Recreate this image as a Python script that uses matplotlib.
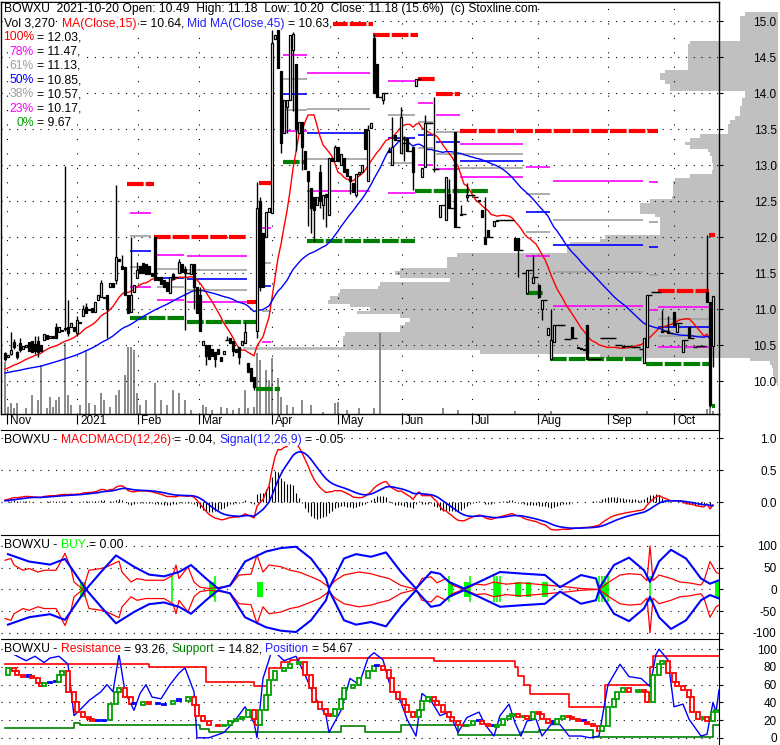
import numpy as np
import pandas as pd
import matplotlib
matplotlib.use("Agg")
import matplotlib.pyplot as plt
from matplotlib.transforms import blended_transform_factory
from matplotlib.lines import Line2D

plt.rcParams['font.family'] = ['Liberation Sans', 'DejaVu Sans']
FS = 8.5
TS = 8.75  # title text size

# ---------------- data (bar index = trading day, 0 = first bar shown) ----------------
month_labels = ['Nov', '2021', 'Feb', 'Mar', 'Apr', 'May', 'Jun', 'Jul', 'Aug', 'Sep', 'Oct']
month_pos = [0.7, 24, 44.3, 64.7, 89, 111, 132.3, 155.7, 177.7, 201, 223]
price_ticks = [10.0, 10.5, 11.0, 11.5, 12.0, 12.5, 13.0, 13.5, 14.0, 14.5, 15.0]

# closes before the first visible bar (only feed the moving averages)
hist_closes = [10.02, 10.03, 10.05, 10.04, 10.06, 10.05, 10.07, 10.06, 10.08, 10.07,
               10.05, 10.08, 10.09, 10.07, 10.06, 10.08, 10.10, 10.09, 10.08, 10.10,
               10.11, 10.09, 10.10, 10.12, 10.11, 10.10, 10.12, 10.13, 10.11, 10.12,
               10.10, 10.12, 10.14, 10.13, 10.15, 10.12, 10.14, 10.16, 10.15, 10.13,
               10.16, 10.18, 10.17, 10.20, 10.22]

opens = [10.39, 10.33, 10.38, 10.54, 10.40, 10.53, 10.45, 10.47, 10.54, 10.55,
         10.52, 10.55, 10.50, 10.57, 10.64, 10.60, 10.63, 10.75, 10.68, 10.70,
         10.72, 10.75, 10.75, 10.75, 10.67, 10.80, 10.90, 11.03, 11.00, 11.02,
         10.96, 11.13, 11.17, 11.15, 11.20, 11.30, 11.36, 11.40, 11.70, 11.60,
         11.58, 11.20, 10.96, 11.23, 11.43, 11.60, 11.64, 11.62, 11.60, 11.50,
         12.00, 11.45, 11.45, 11.40, 11.38, 11.22, 11.48, 11.45, 11.50, 11.63,
         11.55, 11.50, 11.48, 11.62, 11.30, 11.20, 10.50, 10.50, 10.50, 10.45,
         10.40, 10.45, 10.33, 10.38, 10.57, 10.60, 10.55, 10.45, 10.47, 10.50,
         10.53, 10.25, 10.18, 10.06,
         10.70, 12.50, 12.05, 12.00, 12.35, 12.33, 14.75, 14.87, 14.30, 13.45,
         13.80, 13.90, 14.60, 14.40, 13.45, 13.60, 13.20, 12.92, 12.68, 12.55,
         12.45, 12.90, 12.45, 12.60, 12.30, 13.10, 13.05, 13.25, 13.00, 13.10,
         12.95, 12.85, 12.75, 12.58, 12.88, 12.90, 13.50, 12.78, 13.52, 14.76,
         14.40, 13.95, 13.90, 14.00, 13.20, 13.00, 13.42, 13.35, 13.17, 13.30,
         13.38, 13.20, 13.25, 14.10, 14.20, 12.83, 12.97, 13.58, 13.58, 12.95,
         12.95, 12.28, 12.44, 12.24, 12.60, 12.40, 13.46, 12.14, 12.30, 12.32,
         12.55, 12.58, 12.58, 12.55, 12.50, 12.37, 12.00, 12.10, 12.00, 12.15,
         12.22, 12.23, 12.23, 12.23, 12.23, 12.23, 11.99, 11.99, 11.82, 11.50,
         11.22, 11.54, 11.36, 11.44, 11.33, 11.00, 11.12, 10.64, 10.30, 10.54,
         10.78, 10.78, 10.78, 10.58, 10.58, 10.75, 10.60, 10.47, 10.46, 10.45,
         10.78, 10.30, 10.30, 10.30, 10.30, 10.60, 10.60, 10.60, 10.60, 10.60,
         10.50, 10.50, 10.47, 10.48, 10.48, 10.47, 10.47, 10.47, 10.44, 10.25,
         10.47, 11.20, 11.24, 11.24, 11.24, 10.68, 10.70, 10.70, 10.67, 10.96,
         10.68, 10.80, 10.40, 10.57, 10.75, 10.60, 10.47, 10.48, 10.48, 10.48,
         11.24, 11.10, 10.49]

closes = [10.30, 10.36, 10.43, 10.47, 10.33, 10.43, 10.48, 10.50, 10.42, 10.40,
          10.42, 10.40, 10.42, 10.66, 10.58, 10.62, 10.60, 10.60, 10.75, 10.71,
          10.73, 10.67, 10.80, 10.70, 10.85, 10.82, 11.00, 10.94, 10.98, 10.96,
          11.10, 11.20, 11.36, 11.17, 11.00, 11.36, 11.30, 11.72, 11.66, 11.55,
          11.20, 10.95, 11.20, 11.33, 11.54, 11.50, 11.50, 11.48, 11.48, 11.46,
          11.40, 11.40, 11.35, 11.30, 11.25, 11.45, 11.42, 11.45, 11.65, 11.52,
          11.50, 11.50, 11.62, 11.30, 10.95, 10.70, 10.55, 10.35, 10.30, 10.35,
          10.30, 10.38, 10.28, 10.42, 10.57, 10.53, 10.42, 10.40, 10.33, 10.55,
          10.68, 10.12, 10.00, 9.92,
          12.40, 11.30, 11.30, 12.35, 12.40, 14.70, 14.80, 14.35, 13.30, 13.90,
          13.90, 14.80, 14.82, 13.50, 13.60, 13.25, 12.95, 12.78, 12.40, 12.37,
          12.55, 12.50, 12.58, 12.55, 13.10, 13.05, 13.25, 13.05, 13.15, 12.90,
          12.85, 12.78, 12.62, 12.88, 12.90, 13.00, 13.22, 13.48, 13.58, 14.00,
          13.95, 13.95, 14.00, 14.00, 13.18, 13.25, 13.35, 13.35, 13.67, 13.30,
          13.20, 13.20, 12.90, 14.20, 14.20, 12.96, 13.58, 13.58, 13.58, 12.95,
          12.95, 12.44, 12.44, 12.83, 12.40, 12.40, 12.14, 12.14, 12.32, 12.32,
          12.58, 12.58, 12.58, 12.55, 12.52, 12.28, 11.90, 12.00, 12.00, 12.22,
          12.23, 12.23, 12.23, 12.23, 12.23, 12.23, 11.82, 11.82, 11.82, 11.50,
          11.54, 11.54, 11.44, 11.44, 11.17, 11.12, 11.12, 10.74, 10.57, 10.78,
          10.78, 10.78, 10.78, 10.58, 10.58, 10.60, 10.60, 10.46, 10.44, 10.43,
          10.30, 10.30, 10.30, 10.30, 10.30, 10.60, 10.60, 10.60, 10.60, 10.60,
          10.50, 10.50, 10.48, 10.48, 10.48, 10.47, 10.47, 10.47, 10.44, 10.60,
          11.20, 11.20, 11.24, 11.24, 11.24, 10.70, 10.70, 10.67, 10.67, 10.78,
          10.80, 10.80, 10.57, 10.57, 10.60, 10.60, 10.47, 10.48, 10.48, 10.48,
          11.10, 9.67, 11.18]

# wick extremes where they reach beyond the body
highs = {0: 10.40, 2: 10.68, 3: 10.58, 4: 10.42, 5: 10.60, 10: 10.62, 11: 10.63, 17: 10.80,
         20: 12.99, 21: 11.13, 24: 10.90, 26: 11.05, 27: 11.08, 32: 11.40, 37: 12.72, 39: 11.75,
         42: 12.00, 44: 11.65, 58: 11.70, 60: 11.60, 65: 11.30, 74: 10.63, 80: 10.82,
         84: 12.77, 85: 12.55, 89: 14.87, 96: 14.85, 105: 13.00, 110: 13.28, 121: 13.55,
         123: 14.82, 128: 13.25, 129: 13.67, 132: 13.80, 133: 13.40, 140: 13.70, 143: 13.94,
         148: 12.80, 152: 12.45, 154: 12.75, 160: 12.56, 176: 11.75, 182: 11.00, 219: 10.99,
         221: 10.90, 234: 12.03, 236: 11.18}
lows = {0: 10.28, 2: 10.36, 3: 10.45, 4: 10.30, 5: 10.40, 10: 10.38, 11: 10.33, 20: 10.70,
        21: 10.62, 24: 10.62, 34: 10.60, 37: 11.35, 60: 10.71, 63: 11.00, 67: 10.22, 70: 10.20,
        76: 10.35, 78: 10.24, 83: 9.88, 84: 10.60, 85: 11.25, 92: 13.17, 94: 13.45, 96: 13.75,
        97: 13.20, 99: 12.93, 101: 12.15, 102: 12.05, 103: 11.95, 105: 12.40, 106: 12.25,
        107: 12.14, 115: 12.60, 117: 12.55, 126: 13.85, 133: 13.05, 136: 12.65, 143: 12.90,
        154: 12.50, 171: 11.45, 179: 10.85, 235: 9.64, 236: 10.20}

vol_idx = [0, 1, 2, 3, 4, 7, 9, 11, 12, 14, 15, 16, 17, 18, 20, 21, 22, 25, 27, 28,
           30, 32, 33, 35, 37, 38, 40, 41, 42, 43, 44, 45, 47, 50, 52, 54, 56, 58, 60, 62,
           66, 67, 69, 72, 74, 76, 78, 80, 81, 83, 84, 85, 87, 88, 89, 91, 92, 94, 96, 99,
           102, 106, 110, 111, 114, 118, 123, 125, 146, 151, 170, 182, 214, 234, 235, 236]
volume = [52000, 7000, 11000, 6000, 11000, 6000, 19000, 14000, 49000, 6000,
          17000, 7000, 14000, 17000, 71000, 19000, 9000, 9000, 64000, 11000,
          9000, 21000, 14000, 7000, 19000, 24000, 39000, 67000, 67000, 64000,
          21000, 9000, 14000, 31000, 14000, 9000, 24000, 21000, 14000, 4000,
          9000, 7000, 4000, 7000, 6000, 4000, 6000, 24000, 6000, 7000,
          61000, 54000, 44000, 34000, 56000, 36000, 17000, 9000, 7000, 14000,
          9000, 2000, 11000, 12000, 4000, 6000, 6000, 81000, 6000, 4000,
          3000, 3000, 3000, 5000, 8000, 3270]

# volume traded at price, rows of 0.05 from 15.10 down to 9.95
profile_top, profile_step = 15.10, 0.05
profile_volume = [33, 38, 38, 38, 38, 38, 38, 38,
                  88, 90, 90, 90, 90, 90, 90, 90,
                  113, 118, 118, 113, 108, 108,
                  33, 33, 36, 36, 38, 38, 38, 43, 48, 50, 50, 50,
                  78, 88, 93, 88, 70, 68, 66, 66, 65, 65, 66,
                  88, 103, 105, 105, 105, 105, 106,
                  128, 138, 138, 138, 123, 118, 118, 118, 118, 118,
                  173, 178, 208, 211, 211,
                  321, 331, 331, 331, 378, 383, 378, 328, 398, 400,
                  438, 440, 448, 450, 428, 408, 421, 378, 368, 373,
                  378, 378, 433, 435, 435, 435, 535, 298, 178,
                  28, 8, 6, 5, 5, 4, 3, 1]

# resistance (red) / support (green) levels: first bar, last bar, price
res_start = [41, 50, 81, 85, 109, 123, 138, 144, 152, 218, 235]
res_end = [49, 80, 84, 88, 122, 137, 143, 151, 217, 234, 236]
res_level = [12.74, 12.00, 11.10, 12.75, 14.96, 14.80, 14.20, 13.99, 13.47, 11.25, 12.03]
sup_start = [42, 61, 84, 93, 101, 137, 174, 182, 214, 236]
sup_end = [59, 83, 91, 100, 136, 161, 179, 213, 235, 236]
sup_level = [10.87, 10.82, 9.89, 13.04, 11.95, 12.64, 11.22, 10.31, 10.24, 9.65]

# fibonacci windows
fib_start = [42, 51, 61, 86, 93, 101, 128, 138, 144, 152, 174, 183, 215, 218]
fib_end = [48, 59, 80, 88, 100, 121, 136, 142, 151, 172, 181, 212, 217, 234]
fib_high = [12.74, 12.00, 12.00, 12.75, 14.94, 14.94, 14.80, 14.20, 13.99, 13.47, 13.47, 13.47, 13.47, 11.25]
fib_low = [10.87, 10.87, 10.82, 9.89, 13.04, 11.95, 11.95, 12.64, 12.64, 12.64, 11.22, 10.31, 10.24, 10.24]
fib_ratios = [0.78, 0.61, 0.50, 0.38, 0.23]
fib_colors = ['#FF00FF', '#A0A0A0', '#0000FF', '#A0A0A0', '#FF00FF']

# BUY panel envelopes (upper side, mirrored below)
buy_blue_idx = [1, 8, 15, 20, 27, 32, 37, 43, 48, 53, 58, 62, 67, 71, 75, 80, 87, 92, 97, 102,
                107, 108, 113, 117, 122, 127, 132, 137, 142, 145, 148, 153, 158, 165, 173, 180,
                185, 192, 197, 198, 203, 208, 213, 215, 218, 222, 227, 232, 235, 238]
buy_blue = [81, 64, 57, 70, 0, 40, 78, 52, 34, 30, 40, 56, 25, 2, 9, 64, 87, 95, 98, 71,
            25, 2, 71, 81, 75, 85, 40, 2, 40, 36, 17, 2, 17, 40, 36, 33, 5, 33, 25, 2,
            56, 73, 44, 17, 64, 91, 71, 25, 13, 21]
buy_red_idx = [0, 2, 3, 6, 8, 11, 13, 17, 18, 20, 22, 23, 26, 28, 32, 34, 38, 39, 42, 44,
               47, 50, 53, 56, 57, 58, 61, 63, 65, 68, 72, 75, 78, 82, 84, 86, 88, 92, 95, 98,
               102, 105, 108, 110, 113, 118, 122, 125, 128, 132, 137, 139, 142, 144, 147, 149,
               153, 157, 160, 163, 167, 172, 177, 182, 187, 192, 198, 202, 205, 208, 212, 214,
               215, 216, 218, 222, 225, 228, 232, 233, 235, 237, 238]
buy_red = [67, 71, 56, 44, 48, 40, 44, 44, 56, 83, 48, 17, 0, 44, 48, 52, 65, 40, 17, 25,
           21, 21, 21, 33, 56, 25, 52, 17, 5, 2, 5, 8, 33, 35, 79, 40, 56, 52, 44, 40,
           29, 20, 5, 20, 33, 40, 36, 30, 25, 9, 0, 25, 29, 15, 25, 10,
           0, 12, 10, 17, 12, 15, 12, 9, 6, 2, 0, 20, 33, 36, 34, 20,
           100, 20, 33, 25, 17, 15, 10, 20, 64, 40, 36]
buy_bar_idx = [26, 69, 85, 148.5, 154, 164, 171, 174.5, 180, 200, 237.5]
buy_tick_idx = [55.7, 70, 148, 155, 163, 164, 165, 198, 199, 200, 201, 215]

# Resistance / Support / Position panel
res_idx = [0, 48, 67, 83, 88, 92, 95, 98, 143, 170, 171, 173, 175, 188, 200, 215, 216, 238]
res_val = [83, 80, 63, 58, 79, 86, 88, 90, 87, 80, 70, 60, 49, 35, 60, 80, 92, 92]
sup_idx = [0, 23, 25, 65, 68, 112, 120, 132, 151, 172, 178, 196, 236, 238]
sup_val = [11, 17, 14, 10, 6, 13, 6, 15, 3, 6, 8.5, 0.5, 14.8, 14.8]
pos_idx = [0, 1, 3, 4, 6, 8, 9, 11, 12, 13, 15, 17, 18, 19, 21, 23, 24, 26, 28, 29,
           31, 33, 35, 37, 38, 40, 42, 43, 46, 48, 51, 53, 56, 58, 61, 63, 64, 66, 68, 71,
           73, 75, 77, 79, 81, 83, 84, 85, 87, 88, 90, 93, 95, 98, 100, 102, 103, 105, 107, 108,
           110, 112, 113, 116, 118, 121, 123, 124, 126, 128, 129, 131, 133, 134, 136, 138, 139, 141, 143, 144,
           146, 148, 149, 151, 153, 154, 156, 158, 159, 161, 163, 164, 166, 168, 169, 171, 173, 174, 176, 178,
           179, 181, 183, 184, 186, 188, 189, 191, 193, 194, 196, 198, 199, 201, 203, 204, 206, 208, 211, 213,
           214, 216, 218, 219, 221, 223, 224, 226, 228, 229, 231, 233, 234, 236, 237]
pos_val = [71, 79, 75, 71, 69, 70, 67, 62, 58, 62, 63, 63, 71, 75, 52, 40, 29, 23, 21, 19,
           19, 20, 38, 52, 56, 46, 38, 37, 40, 38, 37, 38, 42, 42, 46, 37, 25, 19, 15, 13,
           15, 19, 21, 23, 31, 21, 15, 31, 48, 65, 75, 79, 83, 85, 71, 56, 40, 33, 27, 25,
           33, 44, 56, 60, 67, 75, 81, 81, 77, 67, 52, 44, 37, 29, 23, 31, 42, 46, 42, 37,
           29, 23, 19, 15, 13, 15, 19, 19, 16, 13, 12, 15, 21, 25, 27, 23, 25, 21, 29, 27,
           21, 17, 16, 21, 25, 23, 21, 19, 18, 16, 13, 8, 13, 35, 44, 52, 56, 52, 54, 52,
           40, 71, 83, 87, 73, 63, 58, 54, 46, 29, 21, 23, 19, 29, 31]
posline_idx = [3, 7, 10, 13, 15, 18, 21, 23, 26, 28, 32, 34, 36, 38, 40, 43, 45, 47, 49, 52,
               55, 58, 60, 63, 64, 68, 73, 77, 80, 83, 84, 86, 88, 89, 93, 97, 100, 103, 107, 108,
               112, 115, 118, 121, 123, 126, 128, 132, 134, 137, 139, 142, 145, 148, 151, 154, 158, 160, 163, 165,
               168, 170, 172, 174, 177, 179, 182, 185, 188, 192, 195, 198, 201, 205, 208, 212, 215, 217, 218, 221,
               223, 226, 228, 232, 234, 236, 237, 238]
posline_val = [94, 87, 92, 85, 90, 92, 83, 25, 35, 42, 52, 60, 52, 94, 52, 31, 50, 60, 46, 44,
               60, 73, 79, 52, 0, 0, 6, 21, 35, 17, 0, 67, 88, 100, 87, 92, 71, 48, 25, 6,
               31, 67, 60, 90, 96, 88, 63, 40, 21, 2, 50, 42, 25, 29, 6, 23, 29, 15, 2, 25,
               38, 17, 2, 19, 21, 2, 15, 15, 2, 2, 0, 2, 60, 83, 69, 67, 58, 94, 100, 88,
               35, 38, 21, 2, 4, 40, 29, 54]

# ---------------- figure ----------------
W, H = 780, 745
fig = plt.figure(figsize=(W / 100, H / 100), dpi=100)
XL = (-4 / 3, 238)


def panel(top, bottom):
    return fig.add_axes([1 / W, 1 - bottom / H, 718 / W, (bottom - top) / H])


def right_labels(a, ticks, labels):
    a.yaxis.tick_right()
    a.set_yticks(ticks)
    a.set_yticklabels(labels)
    a.tick_params(axis='y', length=3, width=0.8, pad=38.5, labelsize=FS)
    for t in a.get_yticklabels():
        t.set_ha('right')


def rich(a, x, y, parts, ha='left'):
    # pieces of text in different colours, leading spaces become an explicit gap
    box = dict(boxstyle='square,pad=0.03', fc='white', ec='none')
    space = TS * 0.278
    s, col = parts[0]
    t = a.text(x / W, 1 - y / H, s, color=col, ha=ha, va='baseline', fontsize=TS,
               transform=fig.transFigure, zorder=10, bbox=box)
    for s, col in parts[1:]:
        gap = (len(s) - len(s.lstrip(' '))) * space
        t = a.annotate(s.lstrip(' '), xy=(1, 0), xycoords=t, xytext=(gap, 0),
                       textcoords='offset points', ha='left', va='bottom', color=col,
                       fontsize=TS, zorder=10, bbox=box)
    return t


ax = panel(2, 414)
ax_m = panel(430, 535)
ax_b = panel(535, 639)
ax_r = panel(639, 744)

# ---- main price panel ----
n = len(closes)
idx = np.arange(n)
o = np.array(opens)
c = np.array(closes)
hi = np.maximum(o, c)
lo = np.minimum(o, c)
for k, v in highs.items():
    hi[k] = v
for k, v in lows.items():
    lo[k] = v

anchor = XL[0] + (778 - 1) / 3
levels = profile_top - profile_step * np.arange(len(profile_volume))
ax.barh(levels, -np.array(profile_volume) / 3, left=anchor, height=profile_step,
        color='#C0C0C0', lw=0, zorder=0.5, clip_on=False)

tv = blended_transform_factory(ax.transData, ax.transAxes)
ax.vlines(vol_idx, 0, np.array(volume) / 412000, transform=tv, color='#808080', lw=1.3, zorder=1)

for y in price_ticks:
    ax.axhline(y, color='black', lw=0.8, ls=(0, (1, 6)), zorder=1.2)
for x in month_pos:
    ax.axvline(x, color='black', lw=0.8, ls=(0, (1, 12)), zorder=1.2)

for s, e, h, l in zip(fib_start, fib_end, fib_high, fib_low):
    for r, col in zip(fib_ratios, fib_colors):
        ax.hlines(l + r * (h - l), s - 0.5, e + 0.5, color=col, lw=1.2, zorder=2)
ax.hlines(res_level, np.array(res_start) - 0.5, np.array(res_end) + 0.5, color='#FF0000',
          lw=3, linestyles=[(0, (4, 0.5))], zorder=2.5)
ax.hlines(sup_level, np.array(sup_start) - 0.5, np.array(sup_end) + 0.5, color='#008000',
          lw=3, linestyles=[(0, (4, 0.5))], zorder=2.5)

full = pd.Series(hist_closes + closes)
ma15 = full.rolling(15).mean().values[-n:]
ma45 = full.rolling(45).mean().values[-n:]
ax.plot(idx, ma15, color='#FF0000', lw=1, zorder=3)
ax.plot(idx, ma45, color='#0000FF', lw=1, zorder=3)

ax.vlines(idx, lo, hi, color='black', lw=1, zorder=4)
up = c > o
dn = c < o
flat = c == o
ax.bar(idx[up], (c - o)[up], bottom=o[up], width=0.75, facecolor='white',
       edgecolor='black', lw=0.9, zorder=5)
ax.bar(idx[dn], (o - c)[dn], bottom=c[dn], width=0.75, facecolor='black',
       edgecolor='black', lw=0.9, zorder=5)
ax.hlines(c[flat], idx[flat] - 0.7, idx[flat] + 0.7, color='black', lw=1, zorder=5)

ax.set_xlim(*XL)
ax.set_ylim(9.542, 15.264)
right_labels(ax, price_ticks, [f'{v:.1f}' for v in price_ticks])
ax.set_xticks(month_pos)
ax.set_xticklabels([])
ax.tick_params(axis='x', length=7, width=0.8, direction='out')
for x, lab in zip(month_pos, month_labels):
    ax.annotate(lab, xy=(x, 0), xycoords=('data', 'axes fraction'), xytext=(3, -1),
                textcoords='offset pixels', ha='left', va='top', fontsize=FS)
for sp in ax.spines.values():
    sp.set_linewidth(1)
fig.add_artist(Line2D([719 / W, 719 / W], [1 - 414 / H, 1 - 430 / H], color='black', lw=1))

rich(ax, 4, 12, [('BOWXU  2021-10-20 Open: 10.49  High: 11.18  Low: 10.20  Close: 11.18 (15.6%)  (c) Stoxline.com', 'black')])
rich(ax, 4, 27, [('Vol 3,270', 'black'), ('  MA(Close,15)', '#FF0000'), (' = 10.64,', 'black'),
                 (' Mid MA(Close,45)', '#2020FF'), (' = 10.63,', 'black')])
fib_text = [('100%', '#FF0000', '12.03,'), ('78%', '#FF00FF', '11.47,'), ('61%', '#A0A0A0', '11.13,'),
            ('50%', '#0000FF', '10.85,'), ('38%', '#A0A0A0', '10.57,'), ('23%', '#FF00FF', '10.17,'),
            ('0%', '#00A000', '9.67')]
for k, (pct, col, val) in enumerate(fib_text):
    rich(ax, 34, 40.5 + 14.2 * k, [(pct, col), (' = ' + val, 'black')], ha='right')

# ---- MACD panel ----
ema12 = full.ewm(span=12, adjust=False).mean()
ema26 = full.ewm(span=26, adjust=False).mean()
macd = ema12 - ema26
signal = macd.ewm(span=9, adjust=False).mean()
macd_v = macd.values[-n:]
sig_v = signal.values[-n:]
for y in [1.0, 0.5, 0.0]:
    ax_m.axhline(y, color='black', lw=0.8, ls=(0, (1, 6)), zorder=1)
ax_m.vlines(idx, 0, macd_v - sig_v, color='black', lw=0.8, zorder=2)
ax_m.plot(idx, macd_v, color='#FF0000', lw=1, zorder=3)
ax_m.plot(idx, sig_v, color='#0000FF', lw=1.2, zorder=3)
ax_m.set_xlim(*XL)
ax_m.set_ylim(-0.51, 1.13)
ax_m.set_xticks([])
right_labels(ax_m, [0.0, 0.5, 1.0], ['0.0', '0.5', '1.0'])
rich(ax_m, 4, 443, [('BOWXU -', 'black'), (' MACDMACD(12,26)', '#FF0000'), (' = -0.04,', 'black'),
                    (' Signal(12,26,9)', '#2020FF'), (' = -0.05', 'black')])

# ---- BUY panel ----
for y in [100, 50, 0, -50, -100]:
    ax_b.axhline(y, color='black', lw=0.8, ls=(0, (1, 6)), zorder=1)
ax_b.bar(buy_bar_idx, 34, bottom=-17, width=1.8, color='#00FF00', lw=0, zorder=2)
ax_b.vlines(buy_tick_idx, -30, 30, color='#00FF00', lw=1.2, zorder=2)
ax_b.plot(buy_red_idx, buy_red, color='#FF0000', lw=0.9, zorder=3)
ax_b.plot(buy_red_idx, -np.array(buy_red), color='#FF0000', lw=0.9, zorder=3)
ax_b.plot(buy_blue_idx, buy_blue, color='#0000FF', lw=1.5, zorder=4)
ax_b.plot(buy_blue_idx, -np.array(buy_blue), color='#0000FF', lw=1.5, zorder=4)
ax_b.set_xlim(*XL)
ax_b.set_ylim(-114, 125)
ax_b.set_xticks([])
right_labels(ax_b, [100, 50, 0, -50, -100], ['100', '50', '0', '-50', '-100'])
rich(ax_b, 4, 548, [('BOWXU -', 'black'), (' BUY', '#00FF00'), (' = 0.00', 'black')])

# ---- Resistance / Support / Position panel ----
for y in [100, 80, 60, 40, 20, 0]:
    ax_r.axhline(y, color='black', lw=0.8, ls=(0, (1, 6)), zorder=1)
ax_r.plot(res_idx, res_val, drawstyle='steps-post', color='#FF0000', lw=1.2, zorder=2)
ax_r.plot(sup_idx, sup_val, drawstyle='steps-post', color='#008000', lw=1.2, zorder=2)
ax_r.plot(posline_idx, posline_val, color='#0000FF', lw=1, zorder=3)
pv = np.array(pos_val, dtype=float)
px_ = np.array(pos_idx, dtype=float)
d = np.diff(pv)
cols = ['#00A000' if v > 1 else ('#FF0000' if v < -1 else '#0000FF') for v in d]
ax_r.bar(px_[1:], np.where(np.abs(d) < 1.5, 1.5, d), bottom=pv[:-1], width=1.2,
         facecolor='white', edgecolor=cols, lw=1.3, zorder=4)
ax_r.set_xlim(*XL)
ax_r.set_ylim(-7, 111.5)
ax_r.set_xticks([])
right_labels(ax_r, [100, 80, 60, 40, 20, 0], ['100', '80', '60', '40', '20', '0'])
rich(ax_r, 4, 652, [('BOWXU -', 'black'), (' Resistance', '#FF0000'), (' = 93.26,', 'black'),
                    (' Support', '#008000'), (' = 14.82,', 'black'), (' Position', '#2020FF'),
                    (' = 54.67', 'black')])

for a in (ax_m, ax_b, ax_r):
    a.spines['left'].set_visible(False)
    a.spines['bottom'].set_visible(False)

fig.savefig('out.png', dpi=100)
